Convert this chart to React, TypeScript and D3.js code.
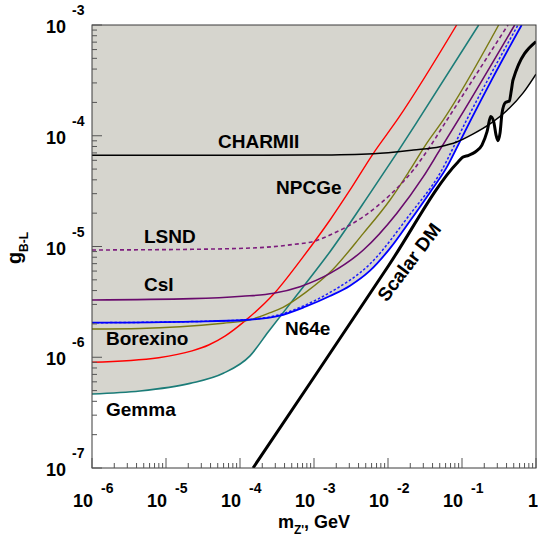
import React, { useEffect, useRef } from 'react';
import * as d3 from 'd3';

// [m_Z' (GeV), g_B-L]
type Pt = [number, number];

const gemmaTeal: Pt[] = [
  [1e-6, 4.66e-7], [4.45e-6, 4.96e-7], [2.11e-5, 5.81e-7], [5.95e-5, 7.16e-7],
  [1.365e-4, 1.03e-6], [2.415e-4, 1.70e-6], [7.18e-4, 4.34e-6],
  [1.645e-3, 8.98e-6], [5.71e-3, 3.02e-5], [1.31e-2, 6.94e-5],
  [2.57e-2, 1.39e-4], [0.168, 1e-3],
];

const redLimit: Pt[] = [
  [1e-6, 9.0e-7], [7.96e-6, 9.91e-7], [2.25e-5, 1.14e-6], [3.77e-5, 1.29e-6],
  [6.34e-5, 1.56e-6], [1.18e-4, 2.14e-6], [2.85e-4, 3.72e-6], [6.88e-4, 7.82e-6],
  [1.645e-3, 1.735e-5], [3.07e-3, 3.24e-5], [6.34e-3, 6.94e-5], [1.38e-2, 1.44e-4],
  [8.47e-2, 1e-3],
];

const oliveLimit: Pt[] = [
  [1e-6, 1.80e-6], [4.45e-6, 1.82e-6], [5.95e-5, 2.03e-6], [1.23e-4, 2.14e-6],
  [2.415e-4, 2.49e-6], [3.81e-4, 2.82e-6], [7.64e-4, 3.83e-6], [1.645e-3, 5.84e-6],
  [4.64e-3, 1.315e-5], [1.064e-2, 2.63e-5], [1.98e-2, 4.91e-5], [3.33e-2, 8.54e-5],
  [5.59e-2, 1.39e-4], [0.313, 1e-3],
];

const csiLimit: Pt[] = [
  [1e-6, 3.29e-6], [2.25e-5, 3.38e-6], [1.064e-4, 3.55e-6], [2.85e-4, 3.78e-6],
  [6.47e-4, 4.34e-6], [1.645e-3, 5.72e-6], [4.64e-3, 9.30e-6], [1.31e-2, 1.99e-5],
  [3.00e-2, 4.27e-5], [5.04e-2, 7.49e-5], [8.92e-2, 1.39e-4], [0.515, 1e-3],
];

const lsndLimit: Pt[] = [
  [1e-6, 9.30e-6], [2.25e-5, 9.43e-6], [1.79e-4, 9.76e-6], [5.04e-4, 1.04e-5],
  [1.03e-3, 1.12e-5], [1.645e-3, 1.27e-5], [4.64e-3, 1.86e-5], [1.064e-2, 2.92e-5],
  [2.20e-2, 4.91e-5], [3.69e-2, 7.97e-5], [5.89e-2, 1.30e-4], [0.418, 1e-3],
];

const blueLimit: Pt[] = [
  [1e-6, 2.05e-6], [2.25e-5, 2.10e-6], [1.18e-4, 2.17e-6], [3.33e-4, 2.36e-6],
  [7.64e-4, 2.86e-6], [1.645e-3, 3.57e-6], [3.07e-3, 4.43e-6], [5.71e-3, 6.05e-6],
  [1.064e-2, 9.62e-6], [1.98e-2, 1.70e-5], [3.69e-2, 3.08e-5], [6.21e-2, 5.18e-5],
  [9.40e-2, 8.90e-5], [0.128, 1.34e-4], [0.254, 3.23e-4], [0.640, 1e-3],
];

const blueDashedLimit: Pt[] = [
  [1e-6, 2.05e-6], [2.25e-5, 2.10e-6], [1.18e-4, 2.18e-6], [3.33e-4, 2.41e-6],
  [7.64e-4, 2.96e-6], [1.645e-3, 3.85e-6], [5.71e-3, 6.95e-6], [1.98e-2, 1.95e-5],
  [5.04e-2, 4.58e-5], [0.1156, 1.39e-4], [0.571, 1e-3],
];

const charmLimit: Pt[] = [
  [1e-6, 6.65e-5], [1e-4, 6.65e-5], [1e-3, 6.70e-5], [6.34e-3, 6.89e-5],
  [2.20e-2, 7.44e-5], [5.04e-2, 7.97e-5], [8.47e-2, 8.78e-5], [0.142, 1.04e-4],
  [0.239, 1.28e-4], [0.401, 1.68e-4], [0.674, 2.45e-4], [1, 3.6e-4],
];

const scalarDM: Pt[] = [
  [1.5e-4, 1e-7], [1e-3, 6.6e-7], [1e-2, 6.6e-6], [8.91e-2, 5.83e-5],
  [0.102, 6.38e-5], [0.123, 6.65e-5], [0.151, 7.13e-5], [0.186, 8.24e-5],
  [0.218, 1.09e-4], [0.244, 1.49e-4], [0.268, 1.34e-4], [0.288, 1.02e-4],
  [0.306, 9.03e-5], [0.326, 1.05e-4], [0.347, 1.59e-4], [0.385, 1.99e-4],
  [0.436, 2.06e-4], [0.465, 2.59e-4], [0.489, 3.19e-4], [1, 7.08e-4],
];

const xTickExps = [-6, -5, -4, -3, -2, -1, 0];
const yTickExps = [-7, -6, -5, -4, -3];

// label text, anchor [m, g]
const curveLabels: { text: string; at: Pt }[] = [
  { text: 'CHARMII', at: [5.04e-5, 7.75e-5] },
  { text: 'NPCGe', at: [3.07e-4, 2.98e-5] },
  { text: 'LSND', at: [5.04e-6, 1.076e-5] },
  { text: 'CsI', at: [5.04e-6, 3.96e-6] },
  { text: 'Borexino', at: [1.546e-6, 1.29e-6] },
  { text: 'N64e', at: [4.06e-4, 1.59e-6] },
  { text: 'Gemma', at: [1.546e-6, 2.95e-7] },
];
const scalarLabelAt: Pt = [1.92e-2, 7.24e-6];

const series = [
  { data: gemmaTeal, color: '#1b7c78', width: 1.6, dash: null },
  { data: redLimit, color: '#ff0000', width: 1.4, dash: null },
  { data: oliveLimit, color: '#7a7a12', width: 1.4, dash: null },
  { data: lsndLimit, color: '#7d1c7d', width: 1.6, dash: '4,3' },
  { data: csiLimit, color: '#690a6c', width: 1.6, dash: null },
  { data: blueDashedLimit, color: '#1a1aff', width: 1.5, dash: '2.5,2' },
  { data: blueLimit, color: '#0000ff', width: 1.8, dash: null },
  { data: charmLimit, color: '#000000', width: 1.5, dash: null },
];

const FONT = '"Liberation Sans", Arial, Helvetica, sans-serif';

export default function App() {
  const svgRef = useRef<SVGSVGElement>(null);

  useEffect(() => {
    if (!svgRef.current) return;
    const svg = d3.select(svgRef.current);
    svg.selectAll('*').remove();

    const x0 = 92, x1 = 536, y0 = 25, y1 = 468;
    const x = d3.scaleLog().domain([1e-6, 1]).range([x0, x1]);
    const y = d3.scaleLog().domain([1e-7, 1e-3]).range([y1, y0]);

    svg.append('defs').append('clipPath').attr('id', 'plot-clip')
      .append('rect').attr('x', x0).attr('y', y0).attr('width', x1 - x0).attr('height', y1 - y0);

    const plot = svg.append('g').attr('clip-path', 'url(#plot-clip)');

    // excluded region: union of areas above every limit
    const area = d3.area<Pt>()
      .x(d => x(d[0]))
      .y0(y0 - 5)
      .y1(d => y(d[1]))
      .curve(d3.curveMonotoneX);

    series.forEach(s => {
      plot.append('path')
        .datum(s.data)
        .attr('fill', '#d6d5ce')
        .attr('stroke', 'none')
        .attr('d', area);
    });

    const line = d3.line<Pt>()
      .x(d => x(d[0]))
      .y(d => y(d[1]))
      .curve(d3.curveMonotoneX);

    series.forEach(s => {
      const p = plot.append('path')
        .datum(s.data)
        .attr('fill', 'none')
        .attr('stroke', s.color)
        .attr('stroke-width', s.width)
        .attr('d', line);
      if (s.dash) p.attr('stroke-dasharray', s.dash);
    });

    plot.append('path')
      .datum(scalarDM)
      .attr('fill', 'none')
      .attr('stroke', '#000')
      .attr('stroke-width', 3)
      .attr('stroke-linejoin', 'round')
      .attr('d', line);

    // frame
    svg.append('rect')
      .attr('x', x0).attr('y', y0)
      .attr('width', x1 - x0).attr('height', y1 - y0)
      .attr('fill', 'none')
      .attr('stroke', '#3a3a3a')
      .attr('stroke-width', 1);

    // ticks
    const ticks = svg.append('g').attr('stroke', '#555').attr('stroke-width', 1);
    xTickExps.forEach(e => {
      const v = Math.pow(10, e);
      ticks.append('line')
        .attr('x1', x(v)).attr('x2', x(v)).attr('y1', y1).attr('y2', y1 - 10);
      if (e < 0) {
        for (let k = 2; k <= 9; k++) {
          const xv = x(k * v);
          ticks.append('line')
            .attr('x1', xv).attr('x2', xv).attr('y1', y1).attr('y2', y1 - 5);
        }
      }
    });
    yTickExps.forEach(e => {
      const v = Math.pow(10, e);
      ticks.append('line')
        .attr('x1', x0).attr('x2', x0 + 10).attr('y1', y(v)).attr('y2', y(v));
      if (e < -3) {
        for (let k = 2; k <= 9; k++) {
          const yv = y(k * v);
          ticks.append('line')
            .attr('x1', x0).attr('x2', x0 + 5).attr('y1', yv).attr('y2', yv);
        }
      }
    });

    const txt = svg.append('g')
      .attr('font-family', FONT)
      .attr('font-weight', 'bold')
      .attr('fill', '#000');

    // x tick labels
    xTickExps.forEach(e => {
      const xv = x(Math.pow(10, e));
      if (e === 0) {
        txt.append('text').attr('x', xv - 3).attr('y', 507)
          .attr('text-anchor', 'middle').attr('font-size', 18).text('1');
        return;
      }
      txt.append('text').attr('x', xv + 1).attr('y', 507)
        .attr('text-anchor', 'end').attr('font-size', 18).text('10');
      txt.append('text').attr('x', xv + 9).attr('y', 493)
        .attr('font-size', 14).text(String(e));
    });

    // y tick labels
    yTickExps.forEach(e => {
      const yv = y(Math.pow(10, e));
      txt.append('text').attr('x', 66).attr('y', yv + 8)
        .attr('text-anchor', 'end').attr('font-size', 18).text('10');
      txt.append('text').attr('x', 72).attr('y', yv - 10)
        .attr('font-size', 14).text(String(e));
    });

    // axis titles
    const xt = txt.append('text').attr('x', 314).attr('y', 528)
      .attr('text-anchor', 'middle').attr('font-size', 18);
    xt.append('tspan').text('m');
    xt.append('tspan').attr('font-size', 12).attr('dy', 6).text("Z'");
    xt.append('tspan').attr('dy', -6).text(', GeV');

    const yt = txt.append('text')
      .attr('transform', 'translate(21,248) rotate(-90)')
      .attr('text-anchor', 'middle').attr('font-size', 20);
    yt.append('tspan').text('g');
    yt.append('tspan').attr('font-size', 12).attr('dy', 7).text('B-L');

    // curve labels
    curveLabels.forEach(l => {
      txt.append('text')
        .attr('x', x(l.at[0])).attr('y', y(l.at[1]))
        .attr('font-size', 19)
        .text(l.text);
    });

    txt.append('text')
      .attr('transform', `translate(${x(scalarLabelAt[0])},${y(scalarLabelAt[1])}) rotate(-53)`)
      .attr('text-anchor', 'middle')
      .attr('dy', '0.35em')
      .attr('font-size', 19)
      .text('Scalar DM');
  }, []);

  return (
    <svg
      ref={svgRef}
      width={538}
      height={538}
      style={{ position: 'absolute', left: 0, top: 0, background: '#fff' }}
    />
  );
}
